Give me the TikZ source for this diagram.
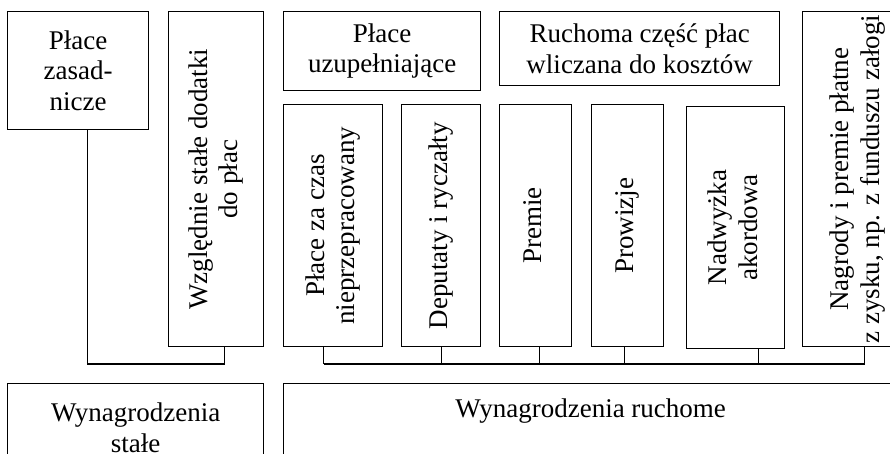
\documentclass[tikz,border=0pt]{standalone}
\usepackage{fontspec}
\setmainfont{Liberation Serif}
\usepackage{graphicx}

\newcommand{\vtext}[1]{\rotatebox{90}{\begin{tabular}{@{}c@{}}#1\end{tabular}}}

\begin{document}
\begin{tikzpicture}[x=1pt, y=-1pt,
    box/.style={rectangle, draw, line width=1.4pt, anchor=north west, align=center, inner sep=2pt, font=\fontsize{27}{30.5}\selectfont},
    wire/.style={line width=1.4pt}]

    \useasboundingbox (0,0) rectangle (890,453);
    \clip (0,0) rectangle (890,453);

    % Top row
    \node[box, minimum width=141, minimum height=118] (zas) at (7,11) {Płace\\zasad-\\nicze};
    \node[box, minimum width=95, minimum height=335] (wzg) at (168,11) {\vtext{Względnie stałe dodatki\\do płac}};
    \node[box, minimum width=197, minimum height=79] (uzu) at (283,11) {Płace\\uzupełniające};
    \node[box, minimum width=280, minimum height=74] (ruch) at (499,11) {Ruchoma część płac\\wliczana do kosztów};
    \node[box, minimum width=110, minimum height=335] (nag) at (802,11) {\vtext{Nagrody i premie płatne\\z zysku, np. z funduszu załogi}};

    % Components
    \node[box, minimum width=99, minimum height=242] (czas) at (283,104) {\vtext{Płace za czas\\nieprzepracowany}};
    \node[box, minimum width=79, minimum height=242] (dep) at (401,104) {\vtext{Deputaty i ryczałty}};
    \node[box, minimum width=72, minimum height=242] (prem) at (499,104) {\vtext{Premie}};
    \node[box, minimum width=72, minimum height=242] (prow) at (591,104) {\vtext{Prowizje}};
    \node[box, minimum width=98, minimum height=242] (nad) at (686,106) {\vtext{Nadwyżka\\akordowa}};

    % Bottom row
    \node[box, minimum width=256, minimum height=88] (stale) at (7,383) {Wynagrodzenia\\stałe};
    \node[box, minimum width=614, minimum height=88] (ruchome) at (283,383) {Wynagrodzenia ruchome\\\strut};

    % Connectors
    \coordinate (busL) at (0,364);
    \coordinate (busR) at (0,364);
    \coordinate (szas) at ([xshift=9]zas.south);
    \coordinate (swzg) at ([xshift=8.5]wzg.south);
    \draw[wire] (szas) -- (szas |- busL) -| (swzg);

    \foreach \n/\s in {czas/-9.5, dep/0, prem/4, prow/-3, nad/23, nag/7} {
      \coordinate (s\n) at ([xshift=\s]\n.south);
      \draw[wire] (s\n) -- (s\n |- busR);
    }
    \draw[wire] (sczas |- busR) -- (snag |- busR);

\end{tikzpicture}
\end{document}
